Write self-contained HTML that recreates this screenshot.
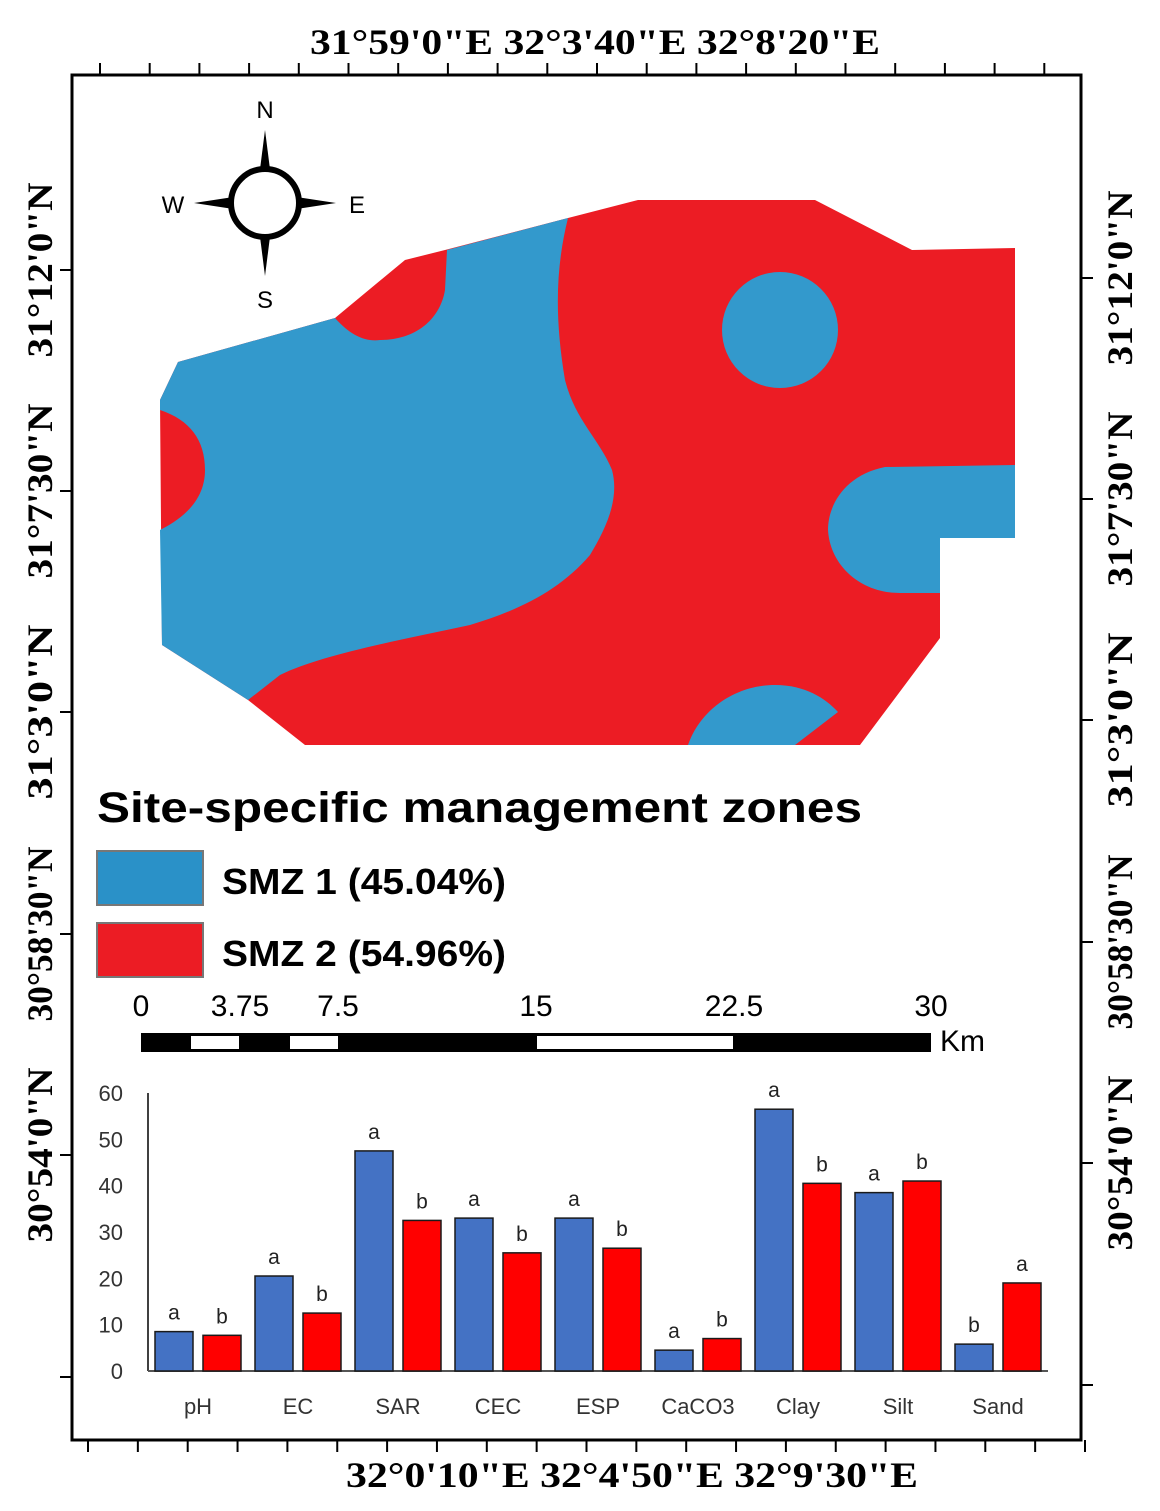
<!DOCTYPE html>
<html><head><meta charset="utf-8"><style>
html,body{margin:0;padding:0;background:#fff;}
svg{display:block;}
.ser{font-family:"Liberation Serif",serif;font-weight:bold;font-size:36px;fill:#000;}
.sans{font-family:"Liberation Sans",sans-serif;}
</style></head><body>
<svg id="fig" width="1160" height="1511" viewBox="0 0 1160 1511" xmlns="http://www.w3.org/2000/svg">
<rect width="1160" height="1511" fill="#fff"/>
<g>
<rect x="72" y="75" width="1009" height="1365" fill="none" stroke="#000" stroke-width="3"/>
<g id="ticks" stroke="#000" stroke-width="2"></g>
</g>
<text class="ser" x="310" y="54" textLength="570" lengthAdjust="spacingAndGlyphs">31°59'0"E  32°3'40"E  32°8'20"E</text>
<text class="ser" x="346" y="1487" textLength="572" lengthAdjust="spacingAndGlyphs">32°0'10"E  32°4'50"E  32°9'30"E</text>
<g id="latlabels"></g>

<g>
<path fill="#ec1c24" d="M178,362 L335,318 L405,260 L445,250 L568,218 L638,200 L815,200 L912,250 L1015,248 L1015,538 L940,538 L940,638 L860,745 L305,745 L248,700 L162,645 L160,400 Z"/>
<path fill="#3399cc" d="M178,362 L335,318 C350,335 365,342 380,340 C415,340 440,320 445,290 L447,250 L568,218 C555,270 555,320 565,380 C575,420 600,440 612,470 C620,500 605,530 590,555 C560,590 520,610 470,625 C400,640 320,655 280,675 L248,700 L162,645 L160,530 C190,515 205,495 205,470 C205,440 190,420 160,410 L160,400 Z"/>
<circle cx="780" cy="330" r="58" fill="#3399cc"/>
<path fill="#3399cc" d="M1015,465 L885,467 C845,475 828,505 828,530 C830,565 860,593 900,593 L940,593 L940,538 L1015,538 Z"/>
<path fill="#3399cc" d="M688,745 C700,710 735,685 775,685 C805,685 825,698 838,712 L795,745 Z"/>
</g>

<g>
<polygon points="265,130 272,185 265,195 258,185" fill="#000"/>
<polygon points="265,276 272,221 265,211 258,221" fill="#000"/>
<polygon points="194,203 240,196 250,203 240,210" fill="#000"/>
<polygon points="336,203 290,196 280,203 290,210" fill="#000"/>
<circle cx="265" cy="203" r="34" fill="#fff" stroke="#000" stroke-width="6"/>
<text class="sans" x="265" y="118" font-size="24" text-anchor="middle">N</text>
<text class="sans" x="265" y="308" font-size="24" text-anchor="middle">S</text>
<text class="sans" x="173" y="213" font-size="24" text-anchor="middle">W</text>
<text class="sans" x="357" y="213" font-size="24" text-anchor="middle">E</text>
</g>

<g>
<text class="sans" x="97" y="822" font-size="43" font-weight="bold" textLength="765" lengthAdjust="spacingAndGlyphs">Site-specific management zones</text>
<rect x="97" y="851" width="106" height="54" fill="#2a91c8" stroke="#777" stroke-width="2"/>
<text class="sans" x="222" y="894" font-size="36" font-weight="bold" textLength="284" lengthAdjust="spacingAndGlyphs">SMZ 1 (45.04%)</text>
<rect x="97" y="923" width="106" height="54" fill="#ec1c24" stroke="#777" stroke-width="2"/>
<text class="sans" x="222" y="966" font-size="36" font-weight="bold" textLength="284" lengthAdjust="spacingAndGlyphs">SMZ 2 (54.96%)</text>
</g>

<g>
<rect x="141" y="1033" width="790" height="19" fill="#000"/>
<rect x="191" y="1036" width="48" height="13" fill="#fff"/>
<rect x="290" y="1036" width="48" height="13" fill="#fff"/>
<rect x="537" y="1036" width="196" height="13" fill="#fff"/>
<g class="sans" font-size="30" text-anchor="middle">
<text x="141" y="1016">0</text><text x="240" y="1016">3.75</text><text x="338" y="1016">7.5</text>
<text x="536" y="1016">15</text><text x="734" y="1016">22.5</text><text x="931" y="1016">30</text>
</g>
<text class="sans" x="940" y="1051" font-size="30">Km</text>
</g>

<g id="chart"></g>
</svg>
<script>
const categories = ["pH","EC","SAR","CEC","ESP","CaCO3","Clay","Silt","Sand"];
const smz1Values = [8.5,20.5,47.5,33,33,4.5,56.5,38.5,5.8];
const smz2Values = [7.7,12.5,32.5,25.5,26.5,7,40.5,41,19];
const smz1Letters = ["a","a","a","a","a","a","a","a","b"];
const smz2Letters = ["b","b","b","b","b","b","b","b","a"];
const yTicks = [0,10,20,30,40,50,60];
const latLabels = ["31°12'0\"N","31°7'30\"N","31°3'0\"N","30°58'30\"N","30°54'0\"N"];

const NS="http://www.w3.org/2000/svg";
function mk(tag,attrs,parent,text){const e=document.createElementNS(NS,tag);for(const k in attrs)e.setAttribute(k,attrs[k]);if(text!==undefined)e.textContent=text;parent.appendChild(e);return e;}

const tk=document.getElementById('ticks');
for(let i=0;i<20;i++){const x=100+i*49.7;mk('line',{x1:x,y1:63,x2:x,y2:75},tk);}
for(let i=0;i<21;i++){const x=88+i*49.85;mk('line',{x1:x,y1:1440,x2:x,y2:1452},tk);}
const leftY=[270,491,712,934,1155,1377], rightY=[278,499,720,942,1163,1385];
leftY.forEach(y=>mk('line',{x1:60,y1:y,x2:72,y2:y},tk));
rightY.forEach(y=>mk('line',{x1:1081,y1:y,x2:1093,y2:y},tk));

const ll=document.getElementById('latlabels');
latLabels.forEach((t,i)=>{
  const yl=leftY[i], yr=rightY[i];
  const a=mk('text',{class:'ser',transform:`translate(52,${yl}) rotate(-90)`,'text-anchor':'middle',textLength:175,lengthAdjust:'spacingAndGlyphs'},ll,t);
  
  
  const b=mk('text',{class:'ser',transform:`translate(1132,${yr}) rotate(-90)`,'text-anchor':'middle',textLength:175,lengthAdjust:'spacingAndGlyphs'},ll,t);
  
  
});

const g=document.getElementById('chart');
const x0=148, x1=1048, yBase=1371, yTop=1093, yMax=60;
const yS=v=>yBase-(v/yMax)*(yBase-yTop);
const groupW=(x1-x0)/categories.length;
const barW=38;
const ax=mk('line',{x1:x0,y1:yTop,x2:x0,y2:yBase,stroke:'#000','stroke-width':1.5},g);


const xl=mk('line',{x1:x0,y1:yBase,x2:x1,y2:yBase,stroke:'#555','stroke-width':2},g);


yTicks.forEach(v=>{
  const t=mk('text',{x:123,y:yS(v)+8,'text-anchor':'end','font-size':22,fill:'#333','font-family':'"Liberation Sans",sans-serif'},g,v);
  
  
});
categories.forEach((c,i)=>{
  const gx=x0+i*groupW;
  const bx1=gx+7, bx2=gx+55;
  const b1=mk('rect',{x:bx1,y:yS(smz1Values[i]),width:barW,height:yBase-yS(smz1Values[i]),fill:'#4472c4',stroke:'#1a1a1a','stroke-width':1.5},g);
  
  
  const b2=mk('rect',{x:bx2,y:yS(smz2Values[i]),width:barW,height:yBase-yS(smz2Values[i]),fill:'#ff0000',stroke:'#1a1a1a','stroke-width':1.5},g);
  
  
  const l1=mk('text',{x:bx1+barW/2,y:yS(smz1Values[i])-12,'text-anchor':'middle','font-size':21,fill:'#222','font-family':'"Liberation Sans",sans-serif'},g,smz1Letters[i]);
  
  
  const l2=mk('text',{x:bx2+barW/2,y:yS(smz2Values[i])-12,'text-anchor':'middle','font-size':21,fill:'#222','font-family':'"Liberation Sans",sans-serif'},g,smz2Letters[i]);
  
  
  const cl=mk('text',{x:gx+groupW/2,y:1414,'text-anchor':'middle','font-size':22,fill:'#333','font-family':'"Liberation Sans",sans-serif'},g,c);
  
  
});
</script>
</body></html>
